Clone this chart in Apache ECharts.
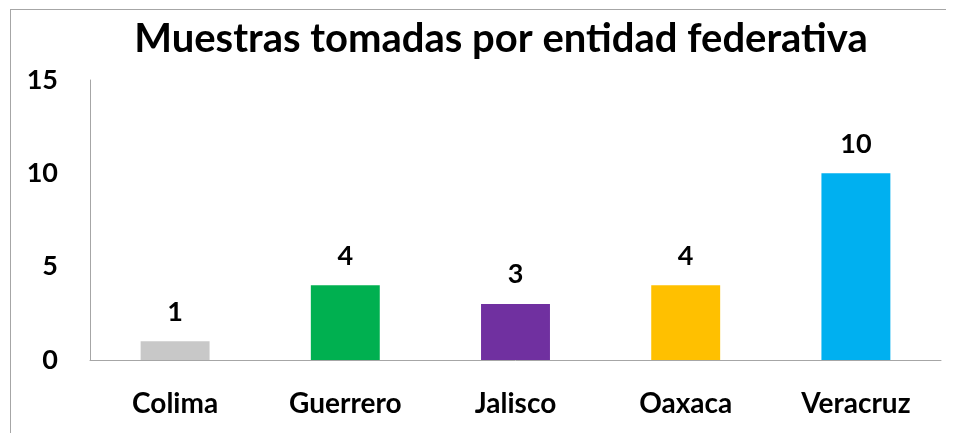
<!DOCTYPE html>
<html style="height: 100%">
<head>
<meta charset="utf-8">
<script src="https://cdn.jsdelivr.net/npm/echarts@6/dist/echarts.min.js"></script>
</head>
<body style="height: 100%; margin: 0; background: #fff">
<div id="container" style="width: 956px; height: 433px"></div>
<script>
var estados = ['Colima', 'Guerrero', 'Jalisco', 'Oaxaca', 'Veracruz'];
var muestras = [1, 4, 3, 4, 10];
var colores = ['#C8C8C8', '#00B050', '#7030A0', '#FFC000', '#00B0F0'];
var yTicks = [0, 5, 10, 15];

var FONT = 'Lato';
var chart = echarts.init(document.getElementById('container'));

var option = {
    animation: false,
    textStyle: { fontFamily: FONT },
    title: {
        text: 'Muestras tomadas por entidad federativa',
        left: 496,
        textAlign: 'center',
        top: 14,
        textStyle: { fontFamily: FONT, fontWeight: 'bold', fontSize: 40, color: '#000' }
    },
    graphic: [
        { type: 'line', shape: { x1: 10, y1: 9.5, x2: 946, y2: 9.5 }, style: { stroke: '#A6A6A6', lineWidth: 1 } },
        { type: 'line', shape: { x1: 10.5, y1: 9.5, x2: 10.5, y2: 433 }, style: { stroke: '#A6A6A6', lineWidth: 1 } }
    ],
    grid: { left: 90, right: 15, top: 80, bottom: 73, containLabel: false },
    xAxis: {
        type: 'category',
        data: estados,
        axisLine: { lineStyle: { color: '#A6A6A6', width: 1 } },
        axisTick: { show: false },
        axisLabel: { margin: 30, fontFamily: FONT, fontWeight: 'bold', fontSize: 28, color: '#000' }
    },
    yAxis: {
        type: 'value',
        min: yTicks[0],
        max: yTicks[yTicks.length - 1],
        interval: 5,
        axisLine: { show: true, lineStyle: { color: '#A6A6A6', width: 1 } },
        axisTick: { show: false },
        splitLine: { show: false },
        axisLabel: { margin: 32, fontFamily: FONT, fontWeight: 'bold', fontSize: 27, color: '#000' }
    },
    series: [{
        type: 'bar',
        barWidth: '40.5%',
        data: muestras.map(function (v, i) {
            return { value: v, itemStyle: { color: colores[i] } };
        }),
        label: {
            show: true,
            position: 'top',
            distance: 16,
            fontFamily: FONT,
            fontWeight: 'bold',
            fontSize: 27,
            color: '#000'
        }
    }]
};

chart.setOption(option);
</script>
</body>
</html>
